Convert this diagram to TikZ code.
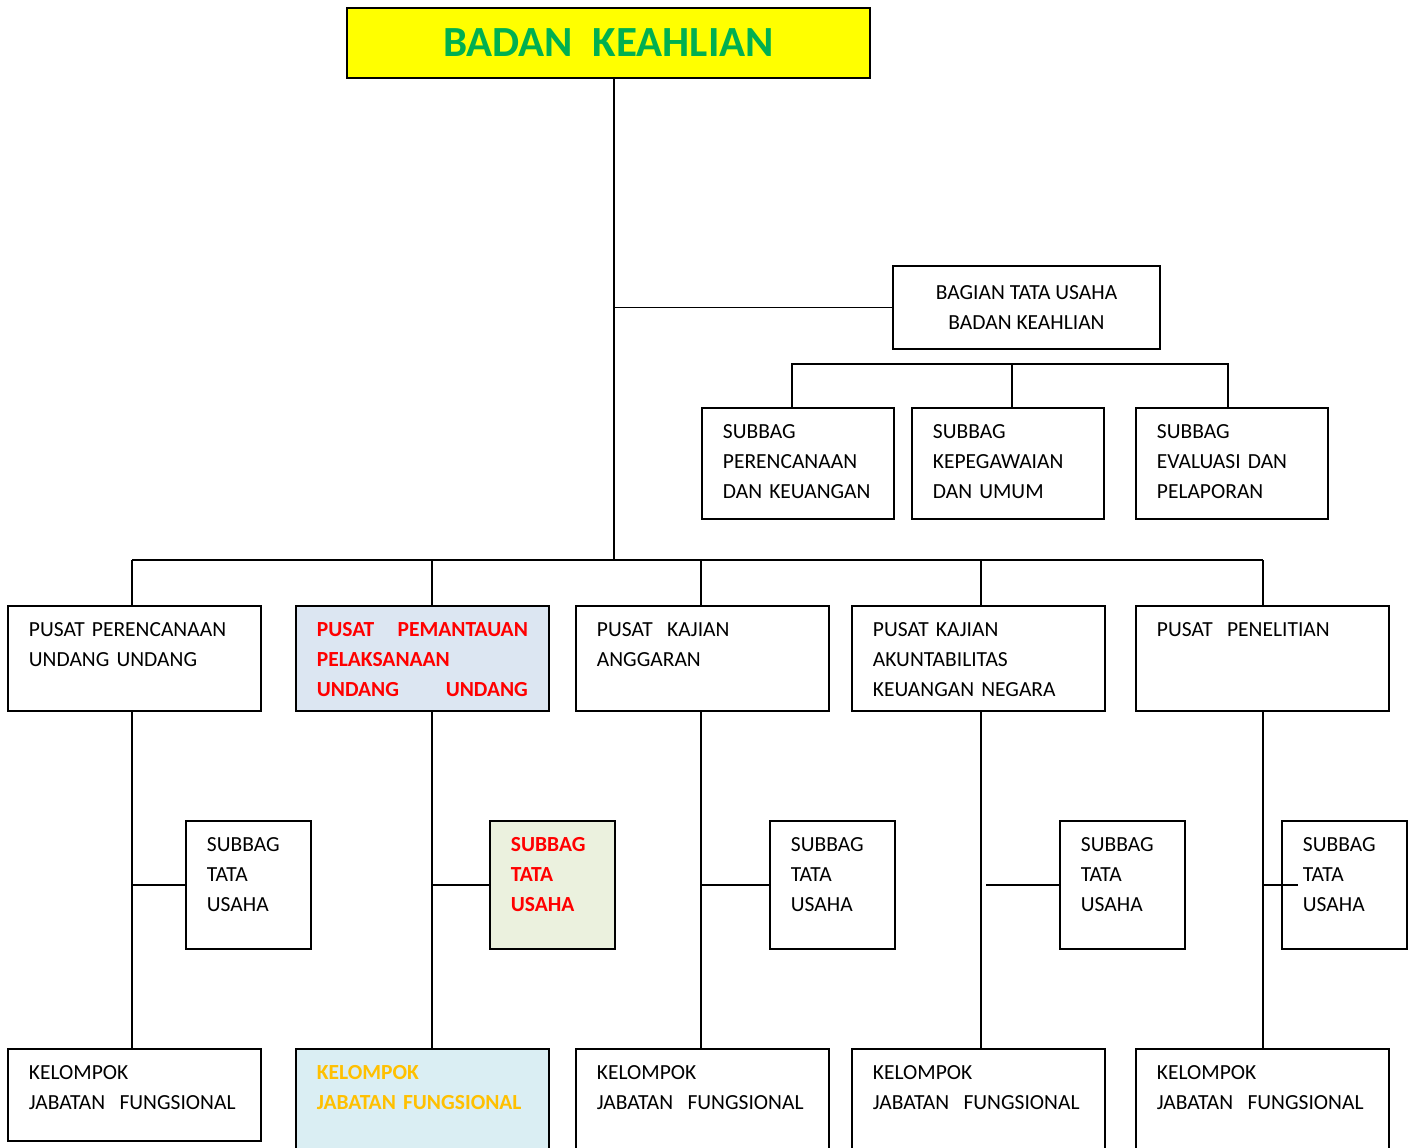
\documentclass[tikz,border=0pt]{standalone}
\usepackage{fontspec}
\setmainfont{Carlito}
\usepackage{xcolor}
\usetikzlibrary{positioning, calc}
\definecolor{hdfill}{HTML}{FFFF00}
\definecolor{hdtext}{HTML}{00B050}
\definecolor{redtext}{HTML}{FF0000}
\definecolor{orgtext}{HTML}{FFC000}
\definecolor{bluefill}{HTML}{DCE6F2}
\definecolor{greenfill}{HTML}{EBF1DE}
\definecolor{cyanfill}{HTML}{DAEEF3}
\newcommand{\spreadline}[2]{\makebox[211pt][l]{#1\hfill #2}}
\tikzset{
  unit/.style={draw, line width=1.8pt, anchor=north west, align=left, font=\fontsize{21.5}{30}\selectfont,
    inner xsep=21pt, inner ysep=17pt, text height=14pt},
  subtop/.style={unit, text width=150pt, text depth=63pt},
  pusat/.style={unit, text width=211pt, text depth=57pt},
  subtu/.style={unit, text width=83pt, text depth=80pt},
  kelompok/.style={unit, text width=211pt, text depth=44pt},
  link/.style={draw, line width=1.9pt},
}

\begin{document}
\begin{tikzpicture}[x=1pt, y=-1pt]
  \useasboundingbox (0,0) rectangle (1414,1148);
  \clip (0,0) rectangle (1414,1148);
  \fill[white] (0,0) rectangle (1414,1148);

  % head
  \node[draw, line width=2.4pt, fill=hdfill, minimum width=523pt, minimum height=70pt,
    font=\fontsize{43}{50}\selectfont\bfseries, text=hdtext] (head) at (608.5,43) {BADAN\ \ KEAHLIAN};
  \coordinate (spine) at (614,560);

  % bagian tata usaha and its subbag
  \node[draw, line width=1.8pt, minimum width=267pt, minimum height=83pt, align=center,
    font=\fontsize{21.5}{30}\selectfont] (bagian) at (1026.5,307.5) {BAGIAN TATA USAHA\\BADAN KEAHLIAN};
  \node[subtop] (sbA) at (701,407) {SUBBAG\\PERENCANAAN\\DAN KEUANGAN};
  \node[subtop] (sbB) at (911,407) {SUBBAG\\KEPEGAWAIAN\\DAN UMUM};
  \node[subtop] (sbC) at (1135,407) {SUBBAG\\EVALUASI DAN\\PELAPORAN};
  \coordinate (brk) at (1012,364);

  % pusat row
  \node[pusat] (p1) at (7,605) {PUSAT PERENCANAAN\\UNDANG UNDANG};
  \node[pusat, fill=bluefill, text=redtext, font=\fontsize{21.5}{30}\selectfont\bfseries] (p2) at (295,605)
    {\spreadline{PUSAT}{PEMANTAUAN}\\PELAKSANAAN\\\spreadline{UNDANG}{UNDANG}};
  \node[pusat] (p3) at (575,605) {PUSAT\ \ KAJIAN\\ANGGARAN};
  \node[pusat] (p4) at (851,605) {PUSAT KAJIAN\\AKUNTABILITAS\\KEUANGAN NEGARA};
  \node[pusat] (p5) at (1135,605) {PUSAT\ \ PENELITIAN};

  % subbag tata usaha row
  \node[subtu] (t1) at (185,820) {SUBBAG\\TATA\\USAHA};
  \node[subtu, fill=greenfill, text=redtext, font=\fontsize{21.5}{30}\selectfont\bfseries] (t2) at (489,820)
    {SUBBAG\\TATA\\USAHA};
  \node[subtu] (t3) at (769,820) {SUBBAG\\TATA\\USAHA};
  \node[subtu] (t4) at (1059,820) {SUBBAG\\TATA\\USAHA};
  \node[subtu] (t5) at (1281,820) {SUBBAG\\TATA\\USAHA};

  % kelompok row
  \node[kelompok] (k1) at (7,1048) {KELOMPOK\\JABATAN\ \ FUNGSIONAL};
  \node[kelompok, text depth=80pt, fill=cyanfill, text=orgtext, font=\fontsize{21.5}{30}\selectfont\bfseries] (k2) at (295,1048)
    {KELOMPOK\\\mbox{JABATAN\ FUNGSIONAL}};
  \node[kelompok, text depth=80pt] (k3) at (575,1048) {KELOMPOK\\JABATAN\ \ FUNGSIONAL};
  \node[kelompok, text depth=80pt] (k4) at (851,1048) {KELOMPOK\\JABATAN\ \ FUNGSIONAL};
  \node[kelompok, text depth=80pt] (k5) at (1135,1048) {KELOMPOK\\JABATAN\ \ FUNGSIONAL};

  % column lines
  \coordinate (c1) at (132,560);
  \coordinate (c2) at (432,560);
  \coordinate (c3) at (701,560);
  \coordinate (c4) at (981,560);
  \coordinate (c5) at (1263,560);

  % connectors
  \draw[link] (head.south -| spine) -- (spine);
  \draw[link] (spine |- bagian.west) -- (bagian.west);
  \draw[link] ($(sbA.north)+(-6,0)$) |- (brk) -| ($(sbC.north)+(-4,0)$);
  \draw[link] (brk) -- (brk |- sbB.north);
  \draw[link] (c1) -- (c5);
  \foreach \i in {1,...,5} {
    \draw[link] (c\i) -- (c\i |- p\i.north);
    \draw[link] (c\i |- p\i.south) -- (c\i |- k\i.north);
  }
  \draw[link] (c1 |- t1.west) -- (t1.west);
  \draw[link] (c2 |- t2.west) -- (t2.west);
  \draw[link] (c3 |- t3.west) -- (t3.west);
  \draw[link] ($(c4 |- t4.west)+(5,0)$) -- (t4.west);
  \draw[link] (c5 |- t5.west) -- ($(t5.west)+(17,0)$);
\end{tikzpicture}
\end{document}
